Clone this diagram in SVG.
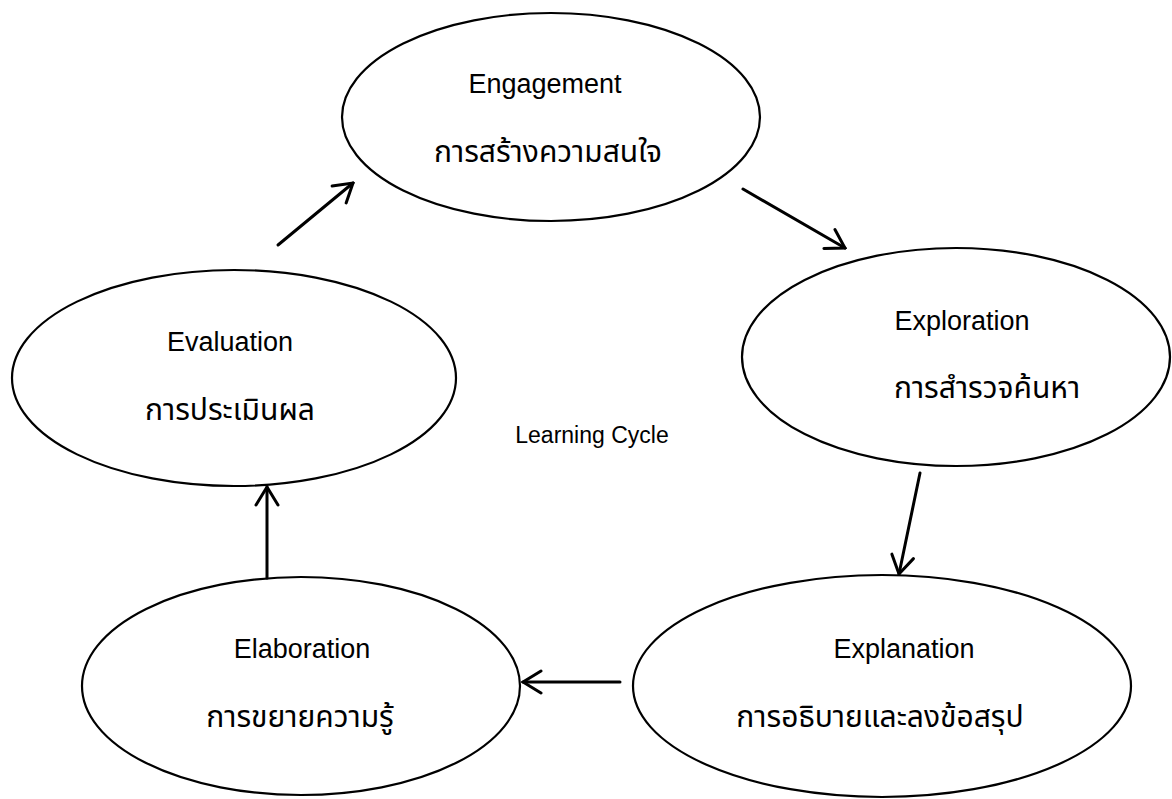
<svg xmlns="http://www.w3.org/2000/svg" width="1172" height="799" viewBox="0 0 1172 799">
<style>
.node ellipse{fill:#fff;stroke:#000;stroke-width:2.2}
.en{font-family:"Liberation Sans",Arial,sans-serif;font-size:27px;fill:#000;text-anchor:middle}
.lbl{font-family:"Liberation Sans",Arial,sans-serif;font-size:23px;fill:#000;text-anchor:middle}
.th{font-family:"Noto Sans Thai","Noto Sans","DejaVu Sans",sans-serif;font-size:30px;fill:#000;text-anchor:middle}
.conn line{stroke:#000;stroke-width:3;stroke-linecap:round;marker-end:url(#arr)}
</style>
<defs>
<marker id="arr" viewBox="0 0 22 26" refX="20" refY="13" markerWidth="22" markerHeight="26" markerUnits="userSpaceOnUse" orient="auto">
<path d="M2,2 L20,13 L2,24" fill="none" stroke="#000" stroke-width="3" stroke-linecap="round" stroke-linejoin="miter"/>
</marker>
</defs>
<rect width="1172" height="799" fill="#fff"/>
<g id="engagement" class="node">
<ellipse cx="551" cy="117" rx="209" ry="104"/>
<text class="en" x="545" y="93">Engagement</text>
<text class="th" x="548" y="162">การสร้างความสนใจ</text>
</g>
<g id="exploration" class="node">
<ellipse cx="956" cy="357" rx="214" ry="109"/>
<text class="en" x="962" y="330">Exploration</text>
<text class="th" x="987" y="398">การสำรวจค้นหา</text>
</g>
<g id="explanation" class="node">
<ellipse cx="882" cy="686" rx="249" ry="111"/>
<text class="en" x="904" y="658">Explanation</text>
<text class="th" x="880" y="727">การอธิบายและลงข้อสรุป</text>
</g>
<g id="elaboration" class="node">
<ellipse cx="301" cy="686" rx="219" ry="109"/>
<text class="en" x="302" y="658">Elaboration</text>
<text class="th" x="300" y="727">การขยายความรู้</text>
</g>
<g id="evaluation" class="node">
<ellipse cx="234" cy="378" rx="222" ry="108"/>
<text class="en" x="230" y="351">Evaluation</text>
<text class="th" x="230" y="420">การประเมินผล</text>
</g>
<g id="center-label">
<text class="lbl" x="592" y="443">Learning Cycle</text>
</g>
<g id="connectors" class="conn">
<line x1="278" y1="245" x2="353" y2="183"/>
<line x1="743" y1="189" x2="845" y2="248"/>
<line x1="920" y1="473" x2="899" y2="574"/>
<line x1="620" y1="682" x2="523" y2="682"/>
<line x1="267" y1="578" x2="267" y2="487"/>
</g>
</svg>
